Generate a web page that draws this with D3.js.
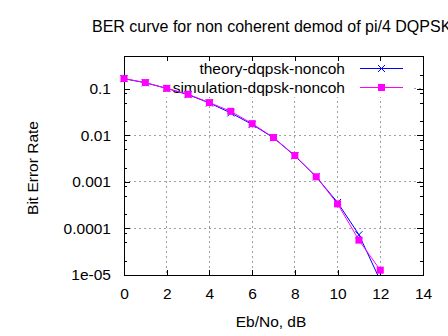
<!DOCTYPE html>
<html>
<head>
<meta charset="utf-8">
<script src="https://cdn.jsdelivr.net/npm/d3@7"></script>
<style>
  html, body { margin: 0; padding: 0; background: #fff; }
  svg { display: block; }
  text { font-family: "Liberation Sans", Arial, sans-serif; fill: #000; }
</style>
</head>
<body>
<svg id="chart" width="448" height="336"></svg>
<script>
// Eb/No values (dB) at which BER was evaluated
const ebno = [0, 1, 2, 3, 4, 5, 6, 7, 8, 9, 10, 11, 12];
// theoretical BER of pi/4 DQPSK with non-coherent (differential) detection
const theoryBer = [0.163, 0.133, 0.101, 0.074, 0.049, 0.030, 0.0170, 0.0088, 0.0036, 0.00128, 0.00036, 0.000073, 0.0000076];
// simulated BER
const simBer = [0.164, 0.1346, 0.101, 0.0754, 0.050, 0.0325, 0.0177, 0.0089, 0.00366, 0.00128, 0.000336, 0.000056, 0.0000127];

const xTicks = [0, 2, 4, 6, 8, 10, 12, 14];
const yTicks = [1e-5, 1e-4, 1e-3, 1e-2, 1e-1];
const yTickLabels = ["1e-05", "0.0001", "0.001", "0.01", "0.1"];
const seriesNames = ["theory-dqpsk-noncoh", "simulation-dqpsk-noncoh"];

const svg = d3.select("#chart");
const FONT = 15.5;

const pL = 124, pR = 423, pT = 56, pB = 275;
const x = d3.scaleLinear().domain([0, 14]).range([pL, pR]);
const y = d3.scaleLog().domain([1e-5, 0.5]).range([pB, pT]);

// minor ticks at 2x, 5x, 8x of each decade
const minorY = [];
[1e-5, 1e-4, 1e-3, 1e-2, 1e-1].forEach(d => [2, 5, 8].forEach(m => {
  const v = d * m;
  if (v < 0.5) minorY.push(v);
}));

// title (runs past the right edge of the canvas)
svg.append("text")
  .attr("x", 92).attr("y", 32)
  .attr("text-anchor", "start")
  .style("font-size", "16px")
  .text("BER curve for non coherent demod of pi/4 DQPSK");

// dotted grid at interior major ticks
const grid = svg.append("g")
  .attr("stroke", "#a0a0a0").attr("stroke-width", 1)
  .attr("stroke-dasharray", "2,3").attr("shape-rendering", "crispEdges");
xTicks.filter(v => v > 0 && v < 14).forEach(v => {
  grid.append("line").attr("x1", x(v)).attr("x2", x(v)).attr("y1", pT).attr("y2", pB);
});
yTicks.filter(v => v > 1e-5).forEach(v => {
  grid.append("line").attr("x1", pL).attr("x2", pR).attr("y1", y(v)).attr("y2", y(v));
});

// opaque key background
svg.append("rect")
  .attr("x", pL + 1).attr("y", pT + 1)
  .attr("width", 413 - pL - 1).attr("height", 97 - pT - 1)
  .attr("fill", "#fff");

// axes with inward ticks
const fmtY = v => yTickLabels[yTicks.indexOf(v)];
const axB = svg.append("g").attr("transform", `translate(0,${pB})`)
  .call(d3.axisBottom(x).tickValues(xTicks).tickSizeInner(-5).tickSizeOuter(0).tickPadding(13));
const axT = svg.append("g").attr("transform", `translate(0,${pT})`)
  .call(d3.axisTop(x).tickValues(xTicks).tickSizeInner(-5).tickSizeOuter(0).tickFormat(""));
const axL = svg.append("g").attr("transform", `translate(${pL},0)`)
  .call(d3.axisLeft(y).tickValues(yTicks).tickFormat(fmtY).tickSizeInner(-6).tickSizeOuter(0).tickPadding(13));
const axR = svg.append("g").attr("transform", `translate(${pR},0)`)
  .call(d3.axisRight(y).tickValues(yTicks).tickFormat("").tickSizeInner(-6).tickSizeOuter(0));
const axLm = svg.append("g").attr("transform", `translate(${pL},0)`)
  .call(d3.axisLeft(y).tickValues(minorY).tickFormat("").tickSizeInner(-3).tickSizeOuter(0));
const axRm = svg.append("g").attr("transform", `translate(${pR},0)`)
  .call(d3.axisRight(y).tickValues(minorY).tickFormat("").tickSizeInner(-3).tickSizeOuter(0));
[axB, axT, axL, axR, axLm, axRm].forEach(a => {
  a.select(".domain").remove();
  a.selectAll("line").attr("stroke", "#000").attr("shape-rendering", "crispEdges");
  a.selectAll("text").style("font-size", FONT + "px")
    .style("font-family", '"Liberation Sans", Arial, sans-serif').attr("fill", "#000");
});

// border
svg.append("rect")
  .attr("x", pL).attr("y", pT).attr("width", pR - pL).attr("height", pB - pT)
  .attr("fill", "none").attr("stroke", "#000").attr("stroke-width", 1)
  .attr("shape-rendering", "crispEdges");

// axis titles
svg.append("text")
  .attr("transform", "translate(38,168) rotate(-90)")
  .attr("text-anchor", "middle")
  .style("font-size", FONT + "px")
  .text("Bit Error Rate");
svg.append("text")
  .attr("x", 271).attr("y", 327)
  .attr("text-anchor", "middle")
  .style("font-size", FONT + "px")
  .text("Eb/No, dB");

// key
const colors = ["#0000ff", "#ff00ff"];
const keyY = [68, 87];
seriesNames.forEach((name, i) => {
  svg.append("text")
    .attr("x", 345).attr("y", keyY[i]).attr("dy", "0.36em")
    .attr("text-anchor", "end")
    .style("font-size", FONT + "px")
    .text(name);
  svg.append("line")
    .attr("x1", 360).attr("x2", 403).attr("y1", keyY[i] + 0.5).attr("y2", keyY[i] + 0.5)
    .attr("stroke", colors[i]).attr("stroke-width", 1);
});

// clip region for curves
svg.append("clipPath").attr("id", "plotclip")
  .append("rect").attr("x", pL).attr("y", pT).attr("width", pR - pL).attr("height", pB - pT);

const line = d3.line().x(d => x(d[0])).y(d => y(d[1]));
const theory = ebno.map((e, i) => [e, theoryBer[i]]);
const sim = ebno.map((e, i) => [e, simBer[i]]);

const plot = svg.append("g").attr("clip-path", "url(#plotclip)");
plot.append("path").datum(theory).attr("d", line)
  .attr("fill", "none").attr("stroke", colors[0]).attr("stroke-width", 1);
plot.append("path").datum(sim).attr("d", line)
  .attr("fill", "none").attr("stroke", colors[1]).attr("stroke-width", 1);

// markers (only inside the y range)
const inRange = d => d[1] >= 1e-5 && d[1] <= 0.5;
const cross = (g, cx, cy) => {
  g.append("path")
    .attr("d", `M${cx - 3.5},${cy - 3.5}L${cx + 3.5},${cy + 3.5}M${cx - 3.5},${cy + 3.5}L${cx + 3.5},${cy - 3.5}`)
    .attr("stroke", colors[0]).attr("stroke-width", 1).attr("fill", "none");
};
theory.filter(inRange).forEach(d => cross(svg, x(d[0]), y(d[1])));
cross(svg, 381.5, keyY[0] + 0.5);

const S = 7;
svg.selectAll("rect.sim").data(sim.filter(inRange)).enter().append("rect")
  .attr("class", "sim")
  .attr("x", d => x(d[0]) - S / 2).attr("y", d => y(d[1]) - S / 2)
  .attr("width", S).attr("height", S).attr("fill", colors[1]);
svg.append("rect")
  .attr("x", 381.5 - S / 2).attr("y", keyY[1] + 0.5 - S / 2)
  .attr("width", S).attr("height", S).attr("fill", colors[1]);
</script>
</body>
</html>
